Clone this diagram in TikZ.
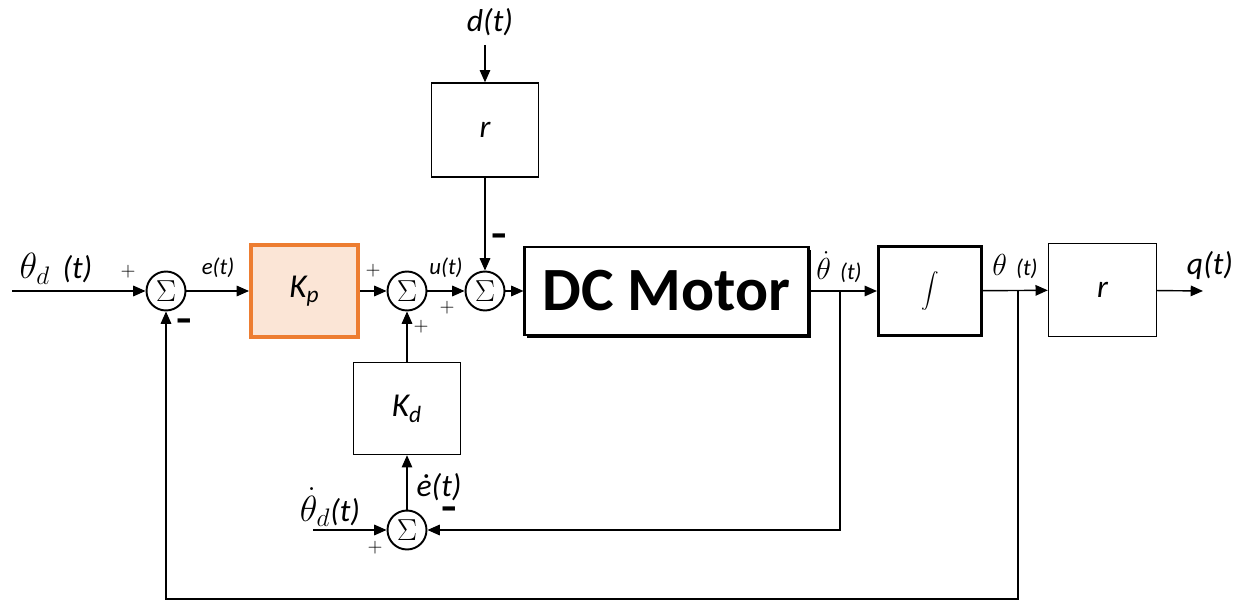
\documentclass[tikz,border=0pt]{standalone}
\usepackage{fontspec}
\setmainfont{Carlito}
\usetikzlibrary{arrows.meta,shadows}

\definecolor{kpline}{HTML}{ED7D31}
\definecolor{kpfill}{HTML}{FBE5D6}

% larger math for the Greek letters
\newcommand{\bigmath}[2]{{\fontsize{#1}{#1}\selectfont$#2$}}
% heavy minus sign
\newcommand{\heavyminus}{\scalebox{1.25}[1.7]{\textbf{–}}}

\tikzset{
    sumnode/.style={draw, circle, line width=1.1pt, minimum size=0.78cm, inner sep=0pt, font=\fontsize{16}{16}\selectfont},
    block/.style={draw, line width=0.8pt, inner sep=0pt, font=\itshape\fontsize{19}{19}\selectfont},
    sig/.style={line width=0.8pt, -{Triangle[length=7pt,width=6pt]}},
    lbl/.style={inner sep=0pt, font=\itshape\fontsize{13}{13}\selectfont},
    biglbl/.style={inner sep=0pt, font=\itshape\fontsize{18}{18}\selectfont},
    sgn/.style={inner sep=0pt, font=\fontsize{11}{11}\selectfont},
    neg/.style={inner sep=0pt, font=\fontsize{16}{16}\selectfont},
}

\begin{document}
\begin{tikzpicture}[x=0.02cm, y=-0.02cm]
    \useasboundingbox (0,0) rectangle (1241,601);

    % Summing junctions
    \node[sumnode] (s1) at (166,291) {$\Sigma$};
    \node[sumnode] (s2) at (407,291) {$\Sigma$};
    \node[sumnode] (s3) at (485,291) {$\Sigma$};
    \node[sumnode] (s4) at (407,530) {$\Sigma$};

    % Blocks
    \node[block, draw=kpline, fill=kpfill, line width=2.3pt, minimum width=2.14cm, minimum height=1.84cm] (kp) at (304.5,291) {K\textsubscript{p}};
    \node[block, minimum width=2.14cm, minimum height=1.88cm, font=\itshape\fontsize{18}{18}\selectfont] (rtop) at (485,130) {r};
    \node[block, line width=1.2pt, minimum width=5.68cm, minimum height=1.76cm, font=\bfseries\fontsize{35}{35}\selectfont,
          fill=white, general shadow={fill=black, shadow xshift=1.3pt, shadow yshift=-1.6pt}] (motor) at (666.5,291) {DC Motor};
    \node[block, line width=1.8pt, minimum width=2.06cm, minimum height=1.78cm, font=\fontsize{18}{18}\selectfont] (int) at (930,291) {$\displaystyle\int$};
    \node[block, minimum width=2.16cm, minimum height=1.86cm, font=\itshape\fontsize{18}{18}\selectfont] (rr) at (1102.5,290) {r};
    \node[block, minimum width=2.14cm, minimum height=1.84cm] (kd) at (407,408.5) {K\textsubscript{d}};

    % Free ends and branch points
    \coordinate (in1) at (12,291);
    \coordinate (in2) at (313,530);
    \coordinate (dtop) at (485,45);
    \coordinate (qout) at (1203,291);
    \coordinate (j1) at (840,291);
    \coordinate (j2) at (1018,291);
    \coordinate (fb) at (166,599);

    % Signals
    \draw[sig] (in1) -- (s1);
    \draw[sig] (s1) -- (kp);
    \draw[sig] (kp) -- (s2);
    \draw[sig] (s2) -- (s3);
    \draw[sig] (s3) -- (motor);
    \draw[sig] (dtop) -- (rtop);
    \draw[sig] (rtop) -- (s3);
    \draw[sig] (motor) -- (int);
    \draw[sig] (int) -- (rr);
    \draw[sig] (rr) -- (qout);
    \draw[sig] (kd) -- (s2);
    \draw[sig] (s4) -- (kd);
    \draw[sig] (in2) -- (s4);
    \draw[sig] (j1) |- (s4);
    \draw[sig] (j2) |- (fb) -- (s1);

    % Signal labels
    \node[biglbl] at (56,269) {\bigmath{22}{\theta_d}\, (t)};
    \node[lbl] at (218,268) {e(t)};
    \node[lbl] at (446,268) {u(t)};
    \node[biglbl] at (490,22) {d(t)};
    \node[lbl] at (839,267) {\bigmath{16}{\dot\theta}\, (t)};
    \node[lbl] at (1015,267) {\bigmath{16}{\theta}\, (t)};
    \node[biglbl] at (1210,265) {q(t)};
    \node[biglbl] at (330,507) {\bigmath{22}{\dot\theta_d}(t)};
    \node[biglbl] at (439,487) {ė(t)};

    % Signs
    \node[sgn] at (128,272) {$+$};
    \node[neg] at (184,327) {\heavyminus};
    \node[sgn] at (373,271) {$+$};
    \node[sgn] at (447,308) {$+$};
    \node[sgn] at (421,327) {$+$};
    \node[neg] at (499,242) {\heavyminus};
    \node[neg] at (449,515) {\heavyminus};
    \node[sgn] at (375,548) {$+$};
\end{tikzpicture}
\end{document}
